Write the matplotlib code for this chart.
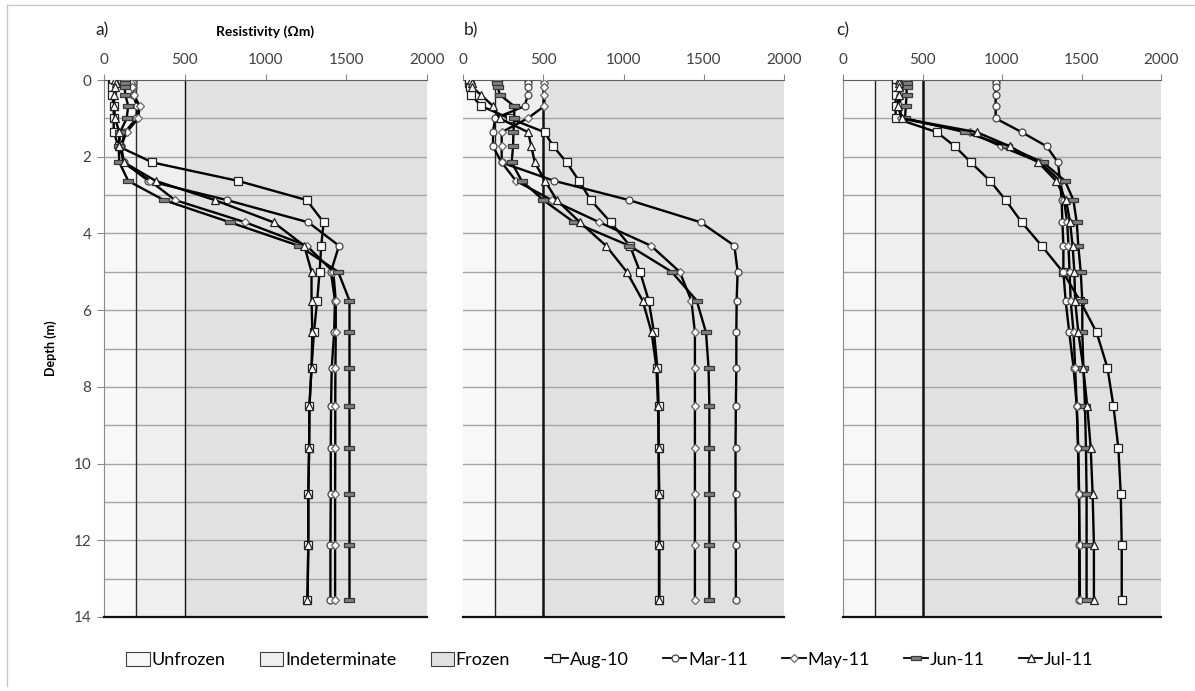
import matplotlib
matplotlib.use("Agg")
import matplotlib.pyplot as plt
from matplotlib.patches import Patch
from matplotlib.lines import Line2D

plt.rcParams['font.family'] = ['Lato', 'DejaVu Sans']

# model layer depths (m)
depth = [0.0, 0.09, 0.19, 0.38, 0.68, 1.0, 1.36, 1.73, 2.15, 2.63, 3.13,
         3.71, 4.32, 5.0, 5.75, 6.58, 7.5, 8.5, 9.6, 10.8, 12.12, 13.56]

# resistivity profiles (ohm m), one list per survey and site
aug10_a = [50, 55, 52, 50, 60, 60, 60, 90, 300, 830, 1255, 1360, 1345, 1335, 1320, 1300, 1285, 1272, 1270, 1265, 1265, 1260]
mar11_a = [180, 178, 180, 178, 205, 200, 130, 105, 125, 275, 760, 1265, 1455, 1405, 1430, 1425, 1410, 1406, 1404, 1404, 1402, 1402]
may11_a = [150, 165, 175, 185, 220, 212, 140, 105, 120, 285, 440, 875, 1255, 1420, 1435, 1435, 1433, 1432, 1432, 1431, 1431, 1431]
jun11_a = [130, 130, 128, 132, 150, 140, 100, 90, 95, 150, 370, 780, 1205, 1450, 1520, 1520, 1520, 1520, 1520, 1520, 1520, 1520]
jul11_a = [70, 72, 68, 62, 62, 68, 95, 95, 125, 320, 685, 1050, 1240, 1285, 1285, 1290, 1285, 1272, 1270, 1265, 1265, 1260]

aug10_b = [40, 40, 42, 48, 114, 290, 508, 563, 646, 723, 796, 920, 1040, 1103, 1157, 1190, 1211, 1219, 1219, 1223, 1223, 1223]
mar11_b = [405, 405, 405, 405, 384, 200, 187, 187, 240, 569, 1034, 1481, 1691, 1711, 1705, 1703, 1703, 1700, 1698, 1698, 1700, 1700]
may11_b = [507, 507, 507, 507, 507, 403, 241, 241, 241, 330, 553, 850, 1171, 1350, 1423, 1445, 1445, 1445, 1445, 1445, 1445, 1445]
jun11_b = [212, 214, 218, 228, 318, 320, 314, 312, 303, 366, 500, 692, 1036, 1300, 1456, 1514, 1530, 1535, 1535, 1535, 1535, 1535]
jul11_b = [52, 55, 58, 110, 187, 228, 405, 426, 447, 511, 584, 729, 891, 1020, 1119, 1175, 1205, 1215, 1219, 1220, 1221, 1221]

aug10_c = [331, 331, 331, 331, 331, 331, 590, 704, 805, 925, 1023, 1124, 1249, 1382, 1490, 1595, 1663, 1701, 1732, 1747, 1753, 1753]
mar11_c = [960, 960, 960, 960, 960, 960, 1124, 1281, 1352, 1365, 1375, 1380, 1386, 1386, 1400, 1423, 1450, 1470, 1480, 1485, 1486, 1486]
may11_c = [385, 375, 365, 360, 360, 365, 800, 994, 1240, 1365, 1390, 1410, 1418, 1425, 1432, 1450, 1460, 1470, 1478, 1484, 1488, 1490]
jun11_c = [395, 400, 400, 400, 395, 390, 767, 1030, 1260, 1396, 1449, 1470, 1480, 1495, 1505, 1505, 1512, 1522, 1528, 1532, 1532, 1532]
jul11_c = [350, 352, 355, 350, 345, 370, 841, 1050, 1229, 1340, 1403, 1428, 1444, 1455, 1460, 1480, 1511, 1536, 1558, 1570, 1578, 1578]

survey_names = ['Aug-10', 'Mar-11', 'May-11', 'Jun-11', 'Jul-11']
panels = {
    'a)': [aug10_a, mar11_a, may11_a, jun11_a, jul11_a],
    'b)': [aug10_b, mar11_b, may11_b, jun11_b, jul11_b],
    'c)': [aug10_c, mar11_c, may11_c, jun11_c, jul11_c],
}

# ground state classes (ohm m)
zone_names = ['Unfrozen', 'Indeterminate', 'Frozen']
zone_edges = [0, 200, 500, 2000]
zone_colors = ['#f8f8f8', '#efefef', '#e1e1e1']

dash = [(-1, -0.3), (1, -0.3), (1, 0.3), (-1, 0.3), (-1, -0.3)]
styles = [
    dict(marker='s', ms=5.5, mfc='white', mec='#222222'),
    dict(marker='o', ms=5, mfc='white', mec='#444444'),
    dict(marker='D', ms=3.6, mfc='white', mec='#666666'),
    dict(marker=dash, ms=7.5, mfc='#808080', mec='#3a3a3a'),
    dict(marker='^', ms=5.5, mfc='white', mec='#222222'),
]

W, H = 1195, 691
fig = plt.figure(figsize=(W / 100, H / 100), dpi=100)

# outer chart frame
fig.add_artist(Line2D([7 / W, 7 / W], [1 - 5 / H, 1 - 686 / H], color='#c8c8c8', lw=1))
fig.add_artist(Line2D([7 / W, 1], [1 - 5 / H, 1 - 5 / H], color='#c8c8c8', lw=1))

boxes = [(104, 427), (463, 784), (843, 1161)]
top, bottom = 80, 617
label_x = [95, 464, 836]

for i, ((name, series), (x0, x1)) in enumerate(zip(panels.items(), boxes)):
    ax = fig.add_axes([x0 / W, 1 - bottom / H, (x1 - x0) / W, (bottom - top) / H])
    for k in range(3):
        ax.axvspan(zone_edges[k], zone_edges[k + 1], color=zone_colors[k], lw=0, zorder=0)
    for d in range(1, 14):
        ax.axhline(d, color='#a4a4a4', lw=1, zorder=1)
    ax.axvline(200, color='#303030' if i == 0 else '#222222', lw=1.0, zorder=2)
    ax.axvline(500, color='#111111', lw=1.0 if i == 0 else 1.8, zorder=2)

    for vals, st in zip(series, styles):
        ax.plot(vals, depth, color='black', lw=1.7, mew=0.9, zorder=3, **st)

    ax.set_xlim(0, 2000)
    ax.set_ylim(14, 0)
    ax.xaxis.tick_top()
    ax.set_xticks([0, 500, 1000, 1500, 2000])
    ax.tick_params(axis='x', colors='#8a8a8a', labelcolor='#404040', labelsize=11,
                   length=4, direction='out', pad=5)
    ax.spines['top'].set_color('#606060')
    ax.spines['right'].set_visible(False)
    ax.spines['bottom'].set_color('#111111')
    ax.spines['bottom'].set_linewidth(1.6)
    if i == 0:
        ax.set_yticks(range(0, 15, 2))
        ax.tick_params(axis='y', colors='#8a8a8a', labelcolor='#404040', labelsize=11,
                       length=5, direction='out', pad=4)
        ax.spines['left'].set_color('#8a8a8a')
        ax.set_ylabel('Depth (m)', fontsize=9, fontweight='bold', labelpad=12)
        ax.set_title('Resistivity (\u03a9m)', fontsize=10, fontweight='bold', pad=32)
    else:
        ax.set_yticks([])
        if i == 1:
            ax.spines['left'].set_visible(False)
        else:
            ax.spines['left'].set_color('#8a8a8a')
    fig.text(label_x[i] / W, 1 - 30 / H, name, fontsize=12.5, color='#222222',
             ha='left', va='center')

handles = [Patch(facecolor=c, edgecolor='#404040', lw=0.8) for c in zone_colors]
handles += [Line2D([], [], color='black', lw=1.3, mew=0.9, **st) for st in styles]
labels = zone_names + survey_names
fig.legend(handles, labels, loc='center', bbox_to_anchor=(610 / W, 1 - 660 / H), ncol=8,
           frameon=False, fontsize=13, handlelength=1.3, handletextpad=0.1,
           columnspacing=1.9, handleheight=0.8)

fig.savefig('out.png', dpi=100)
